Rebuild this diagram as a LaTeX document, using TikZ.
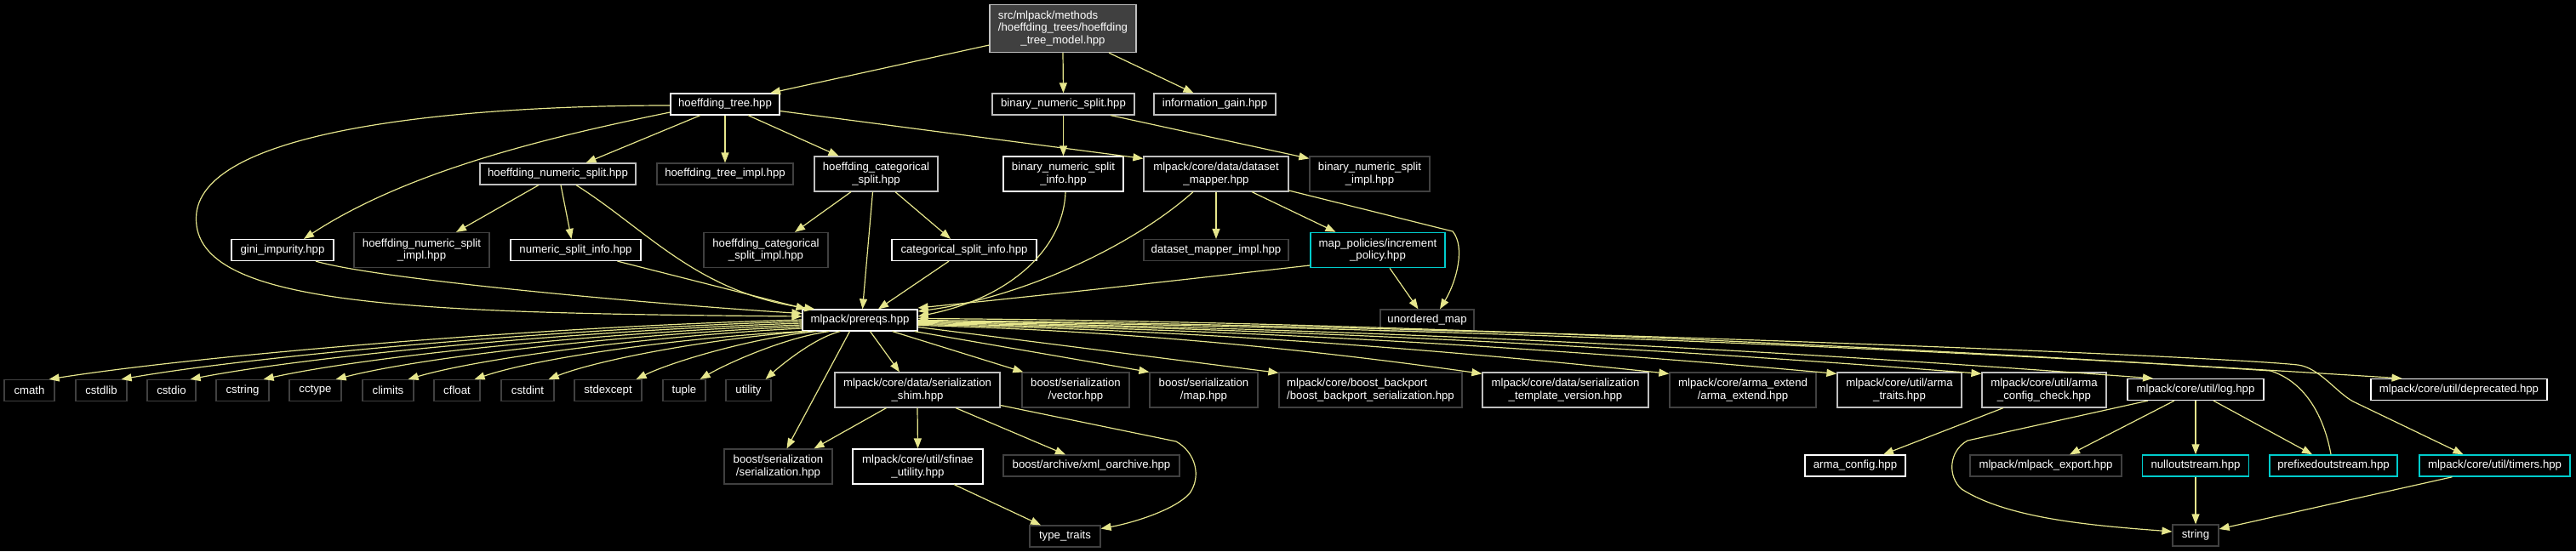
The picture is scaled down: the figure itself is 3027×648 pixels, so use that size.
\documentclass[tikz,border=0pt]{standalone}
\usepackage{fontspec}
\setmainfont{Liberation Sans}
\usetikzlibrary{arrows.meta}
\definecolor{edgec}{RGB}{230,230,140}
\definecolor{dimb}{RGB}{64,64,64}
\definecolor{lgb}{RGB}{191,191,191}
\definecolor{cyb}{RGB}{0,204,204}
\definecolor{rootf}{RGB}{64,64,64}
\newcommand{\dfont}{\fontsize{13.2pt}{14.7pt}\selectfont}
\tikzset{
  base/.style={rectangle, line width=1.2pt, fill=black, text=white, inner sep=0pt, align=center, font=\dfont},
  doc/.style={base, draw=white},
  lg/.style={base, draw=lgb},
  dim/.style={base, draw=dimb},
  cy/.style={base, draw=cyb, line width=1.5pt},
  rootn/.style={base, fill=rootf, draw=lgb},
  oneline/.style={minimum height=25pt},
  twoline/.style={minimum height=41pt},
  link/.style={draw=edgec, line width=1.2pt, -{Triangle[length=12pt,width=9pt]}}
}
\begin{document}
\begin{tikzpicture}[x=1pt,y=-1pt]
\fill[black] (0,0) rectangle (3027,648);
\useasboundingbox (0,0) rectangle (3027,648);
% row 0
\node[rootn, minimum width=172pt, minimum height=56pt] (root) at (1249,33.5) {\makebox[0pt][l]{src/mlpack/methods}\phantom{/hoeffding\_trees/hoeffding}\\/hoeffding\_trees/hoeffding\\\_tree\_model.hpp};
% row 1
\node[doc,oneline,minimum width=128pt] (ht) at (852,122.5) {hoeffding\_tree.hpp};
\node[lg,oneline,minimum width=167pt] (bns) at (1249.5,122.5) {binary\_numeric\_split.hpp};
\node[lg,oneline,minimum width=143pt] (ig) at (1427.5,122.5) {information\_gain.hpp};
% row 2
\node[lg,oneline,minimum width=183pt] (hns) at (655.5,204.5) {hoeffding\_numeric\_split.hpp};
\node[dim,oneline,minimum width=160pt] (hti) at (852,204.5) {hoeffding\_tree\_impl.hpp};
\node[lg,twoline,minimum width=145pt] (hcs) at (1029.5,204.5) {hoeffding\_categorical\\\_split.hpp};
\node[doc,twoline,minimum width=141pt] (bnsi) at (1249.5,204.5) {binary\_numeric\_split\\\_info.hpp};
\node[lg,twoline,minimum width=170pt] (dm) at (1429,204.5) {mlpack/core/data/dataset\\\_mapper.hpp};
\node[dim,twoline,minimum width=141pt] (bnsimpl) at (1609.5,204.5) {binary\_numeric\_split\\\_impl.hpp};
% row 3
\node[doc,oneline,minimum width=120pt] (gini) at (332,294) {gini\_impurity.hpp};
\node[dim,twoline,minimum width=159pt] (hnsi) at (495.5,294) {hoeffding\_numeric\_split\\\_impl.hpp};
\node[doc,oneline,minimum width=153pt] (nsi) at (676.5,294) {numeric\_split\_info.hpp};
\node[dim,twoline,minimum width=146pt] (hcsi) at (900,294) {hoeffding\_categorical\\\_split\_impl.hpp};
\node[doc,oneline,minimum width=170pt] (csi) at (1133,294) {categorical\_split\_info.hpp};
\node[dim,oneline,minimum width=170pt] (dmi) at (1429,294) {dataset\_mapper\_impl.hpp};
\node[cy,twoline,minimum width=158pt] (ip) at (1619,294) {map\_policies/increment\\\_policy.hpp};
% row 4
\node[doc,oneline,minimum width=135pt] (pre) at (1010.5,376.5) {mlpack/prereqs.hpp};
\node[dim,oneline,minimum width=110pt] (um) at (1677,376.5) {unordered\_map};
% row 5
\node[dim,oneline,minimum width=59pt] (cmath) at (34.5,459) {cmath};
\node[dim,oneline,minimum width=60pt] (cstdlib) at (119,459) {cstdlib};
\node[dim,oneline,minimum width=57pt] (cstdio) at (201.5,459) {cstdio};
\node[dim,oneline,minimum width=62pt] (cstring) at (285,459) {cstring};
\node[dim,oneline,minimum width=61pt] (cctype) at (370.5,459) {cctype};
\node[dim,oneline,minimum width=60pt] (climits) at (456,459) {climits};
\node[dim,oneline,minimum width=54pt] (cfloat) at (537,459) {cfloat};
\node[dim,oneline,minimum width=62pt] (cstdint) at (620,459) {cstdint};
\node[dim,oneline,minimum width=79pt] (stdexcept) at (714.5,459) {stdexcept};
\node[dim,oneline,minimum width=50pt] (tuple) at (804,459) {tuple};
\node[dim,oneline,minimum width=53pt] (utility) at (879.5,459) {utility};
\node[lg,twoline,minimum width=194pt] (shim) at (1078,458.5) {mlpack/core/data/serialization\\\_shim.hpp};
\node[dim,twoline,minimum width=126pt] (bsv) at (1264,458.5) {boost/serialization\\/vector.hpp};
\node[dim,twoline,minimum width=127pt] (bsm) at (1414.5,458.5) {boost/serialization\\/map.hpp};
\node[dim,twoline,minimum width=215pt] (bbp) at (1610.5,458.5) {\makebox[0pt][l]{mlpack/core/boost\_backport}\phantom{/boost\_backport\_serialization.hpp}\\/boost\_backport\_serialization.hpp};
\node[lg,twoline,minimum width=195pt] (stv) at (1839.5,458.5) {mlpack/core/data/serialization\\\_template\_version.hpp};
\node[dim,twoline,minimum width=172pt] (ae) at (2048,458.5) {mlpack/core/arma\_extend\\/arma\_extend.hpp};
\node[lg,twoline,minimum width=146pt] (atr) at (2232,458.5) {mlpack/core/util/arma\\\_traits.hpp};
\node[lg,twoline,minimum width=146pt] (acc) at (2402,458.5) {mlpack/core/util/arma\\\_config\_check.hpp};
\node[doc,oneline,minimum width=160pt] (log) at (2580,458) {mlpack/core/util/log.hpp};
\node[doc,oneline,minimum width=207pt] (depr) at (2889.5,458) {mlpack/core/util/deprecated.hpp};
% row 6
\node[dim,twoline,minimum width=127pt] (bss) at (914.5,548.5) {boost/serialization\\/serialization.hpp};
\node[doc,twoline,minimum width=153pt] (sfinae) at (1078.5,548.5) {mlpack/core/util/sfinae\\\_utility.hpp};
\node[dim,oneline,minimum width=207pt] (xml) at (1282.5,547.5) {boost/archive/xml\_oarchive.hpp};
\node[doc,oneline,minimum width=118pt] (ac) at (2180,547.5) {arma\_config.hpp};
\node[dim,oneline,minimum width=178pt] (exp) at (2404,547.5) {mlpack/mlpack\_export.hpp};
\node[cy,oneline,minimum width=125pt] (null) at (2580,547.5) {nulloutstream.hpp};
\node[cy,oneline,minimum width=150pt] (pfx) at (2742,547.5) {prefixedoutstream.hpp};
\node[cy,oneline,minimum width=177pt] (tim) at (2931.5,547.5) {mlpack/core/util/timers.hpp};
% row 7
\node[dim,oneline,minimum width=83pt] (tt) at (1251.5,630.5) {type\_traits};
\node[dim,oneline,minimum width=54pt] (str) at (2580,629.5) {string};

% ---- edges ----
\draw[link] ([yshift=-19.5pt]root.west) -- ([xshift=53pt]ht.north);
\draw[link] (root.south) -- (bns.north);
\draw[link] ([xshift=54pt]root.south) -- ([xshift=-25pt]ig.north);
\draw[link] ([xshift=-29pt]ht.south) -- ([xshift=33pt]hns.north);
\draw[link] (ht.south) -- (hti.north);
\draw[link] ([xshift=27pt]ht.south) -- ([xshift=-44pt]hcs.north);
\draw[link] ([yshift=-8pt]ht.east) -- ([yshift=-3pt]dm.north west);
\draw[link] ([yshift=-9.5pt]ht.west) .. controls (650,160) and (480,200) .. ([xshift=25pt]gini.north);
\draw[link] ([yshift=-1.5pt]ht.west) .. controls (550,124) and (230,150) .. (230.5,257) .. controls (230,360) and (480,368) .. ([yshift=4.5pt]pre.west);
\draw[link] ([xshift=-22.5pt]hns.south) -- ([xshift=40.5pt]hnsi.north);
\draw[link] ([xshift=3.5pt]hns.south) -- ([xshift=-5pt]nsi.north);
\draw[link] ([xshift=21.5pt]hns.south) .. controls (760,270) and (820,345) .. ([xshift=15pt]pre.north west);
\draw[link] ([xshift=39pt]gini.south) .. controls (450,330) and (800,360) .. ([yshift=8pt]pre.west);
\draw[link] ([xshift=49pt]nsi.south) -- ([xshift=5pt]pre.north west);
\draw[link] ([xshift=-29.5pt]hcs.south) -- ([xshift=34pt]hcsi.north);
\draw[link] ([xshift=22.5pt]hcs.south) -- ([xshift=-16pt]csi.north);
\draw[link] ([xshift=-4pt]hcs.south) -- ([xshift=3pt]pre.north);
\draw[link] ([xshift=-18pt]csi.south) -- ([xshift=21.5pt]pre.north);
\draw[link] (bns.south) -- (bnsi.north);
\draw[link] ([xshift=55.5pt]bns.south) -- ([yshift=-3pt]bnsimpl.north west);
\draw[link] ([xshift=2.5pt]bnsi.south) .. controls (1250,290) and (1190,350) .. ([yshift=4.5pt]pre.east);
\draw[link] ([xshift=-27pt]dm.south) .. controls (1330,290) and (1200,350) .. ([yshift=10.5pt]pre.east);
\draw[link] ([yshift=-18pt]ip.west) .. controls (1450,322) and (1250,345) .. ([yshift=14.5pt]pre.east);
\draw[link] (dm.south) -- (dmi.north);
\draw[link] ([xshift=42pt]dm.south) -- ([xshift=-49.5pt]ip.north);
\draw[link] ([yshift=-19.5pt]dm.east) -- (1707,272) .. controls (1722,290) and (1712,330) .. ([xshift=15pt]um.north);
\draw[link] ([xshift=14pt]ip.south) -- ([xshift=-10.5pt]um.north);
% fan left
\draw[link] ([yshift=0.5pt]pre.west) .. controls (633,384) and (234,418) .. ([xshift=-7pt]cmath.north east);
\draw[link] ([yshift=-1.5pt]pre.west) .. controls (663,386) and (302,418) .. ([xshift=-7pt]cstdlib.north east);
\draw[link] ([yshift=-3.5pt]pre.west) .. controls (691,388) and (367,418) .. ([xshift=-7pt]cstdio.north east);
\draw[link] ([yshift=-5.5pt]pre.west) .. controls (721,390) and (436,418) .. ([xshift=-7pt]cstring.north east);
\draw[link] ([yshift=-7.5pt]pre.west) .. controls (751,392) and (504,418) .. ([xshift=-7pt]cctype.north east);
\draw[link] ([yshift=-9.5pt]pre.west) .. controls (781,394) and (572,419) .. ([xshift=-7pt]climits.north east);
\draw[link] ([xshift=1pt]pre.south west) .. controls (808,396) and (634,420) .. ([xshift=-7pt]cfloat.north east);
\draw[link] ([xshift=7pt]pre.south west) .. controls (843,397) and (705,422) .. ([xshift=-7pt]cstdint.north east);
\draw[link] ([xshift=17pt]pre.south west) .. controls (885,397) and (790,425) .. ([xshift=-7pt]stdexcept.north east);
\draw[link] ([xshift=32pt]pre.south west) .. controls (921,397) and (853,428) .. ([xshift=-7pt]tuple.north east);
\draw[link] ([xshift=45pt]pre.south west) .. controls (957,397) and (917,430) .. ([xshift=-7pt]utility.north east);
% down from prereqs
\draw[link] ([xshift=-12pt]pre.south) -- ([xshift=10pt]bss.north);
\draw[link] ([xshift=12pt]pre.south) -- ([xshift=-21pt]shim.north);
\draw[link] ([xshift=38pt]pre.south) -- ([xshift=2pt]bsv.north west);
\draw[link] ([xshift=-4pt]pre.south east) -- (bsm.north west);
\draw[link] ([yshift=-8pt]pre.east) -- ([yshift=-1pt]bbp.north west);
\draw[link] ([yshift=-6pt]pre.east) .. controls (1299,388) and (1521,408) .. ([yshift=-2pt]stv.north west);
\draw[link] ([yshift=-5pt]pre.east) .. controls (1373,387) and (1667,408) .. ([yshift=-2pt]ae.north west);
\draw[link] ([yshift=-4pt]pre.east) .. controls (1438,386.5) and (1798,407) .. ([yshift=-2pt]atr.north west);
\draw[link] ([yshift=-3pt]pre.east) .. controls (1495,385.5) and (1912,407) .. ([yshift=-2pt]acc.north west);
\draw[link] ([yshift=-2pt]pre.east) .. controls (1562,385) and (2046,408.4) .. ([xshift=-50pt]log.north);
\draw[link] ([yshift=-1pt]pre.east) .. controls (1659.5,384) and (2241,408) .. ([xshift=-67pt]depr.north);
\draw[link] (pre.east) .. controls (1700,382) and (2600,418) .. (2700,429) .. controls (2725,432) and (2745,461) .. (2765,472) -- ([xshift=-37pt]tim.north);
\draw[link] ([xshift=-3pt]pfx.north) .. controls (2732,495) and (2712,450) .. (2668,436) .. controls (2300,412) and (1650,378) .. ([yshift=2pt]pre.east);
% log
\draw[link] ([xshift=-56pt]log.south) -- (2312,518) .. controls (2290,530) and (2288,560) .. (2305,575) .. controls (2360,610) and (2460,618) .. ([yshift=4.5pt]str.west);
\draw[link] ([xshift=-25pt]log.south) -- ([xshift=28pt]exp.north);
\draw[link] (log.south) -- (null.north);
\draw[link] ([xshift=21pt]log.south) -- ([xshift=-25pt]pfx.north);
\draw[link] (null.south) -- (str.north);
\draw[link] ([xshift=-50pt]tim.south) -- ([yshift=7.5pt]str.east);
\draw[link] ([xshift=-48pt]acc.south) -- ([xshift=33pt]ac.north);
% shim
\draw[link] ([xshift=-36.5pt]shim.south) -- ([xshift=42pt]bss.north);
\draw[link] (shim.south) -- (sfinae.north);
\draw[link] ([xshift=45pt]shim.south) -- ([xshift=-30.5pt]xml.north);
\draw[link] ([yshift=-18pt]shim.east) -- (1382,519) .. controls (1405,532) and (1412,560) .. (1398,580) .. controls (1380,600) and (1330,615) .. ([yshift=9pt]tt.east);
\draw[link] ([xshift=42.5pt]sfinae.south) -- ([xshift=-28.5pt]tt.north);
\end{tikzpicture}
\end{document}
